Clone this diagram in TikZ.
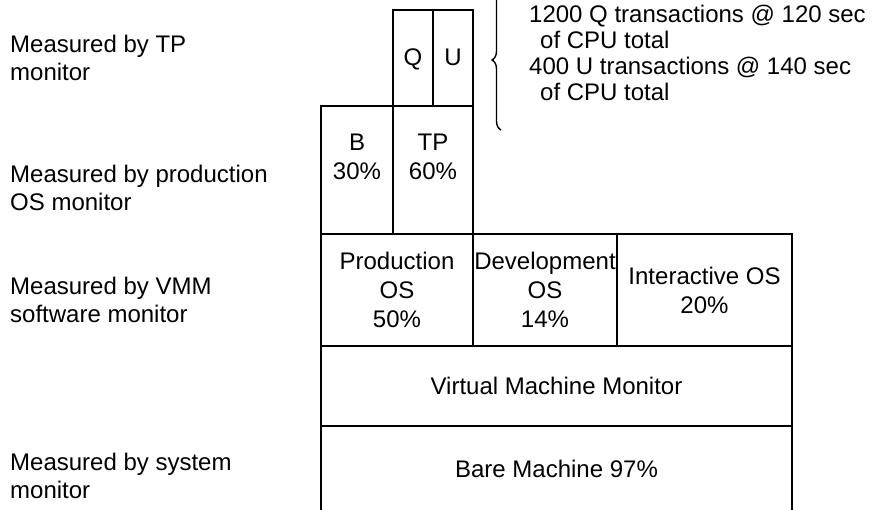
\documentclass[tikz,border=0pt]{standalone}
\usepackage{fontspec}
\setmainfont{Liberation Sans}
\usepackage{tikz}
\usetikzlibrary{calc,positioning,decorations.pathreplacing}

\begin{document}
\begin{tikzpicture}[x=1pt,y=-1pt,
    font=\fontsize{24}{27.5}\selectfont,
    layer/.style={rectangle,draw=black,line width=2pt,inner sep=0pt,align=center,font=\fontsize{24}{29}\selectfont},
    lbl/.style={anchor=base west,align=left,inner sep=0pt}]

  \useasboundingbox (0,0) rectangle (875,509);

  %% what measures what, on the left (base = last line)
  \foreach \y/\txt [count=\i] in {80/{Measured by TP\\monitor},210/{Measured by production\\OS monitor},%
                                  322/{Measured by VMM\\software monitor},498/{Measured by system\\monitor}}
           {
             \node (measure_\i) [lbl] at (10,\y) {\txt};
           }

  %% machine and vmm
  \node (bare) [layer,minimum width=471,minimum height=86] at (556.5,469) {Bare Machine 97\%};
  \node (vmm) [layer,minimum width=471,minimum height=80] at (556.5,386) {Virtual Machine Monitor};

  %% operating systems on the vmm
  \node (prod_os) [layer,minimum width=152,minimum height=112] at (397,290) {Production\\OS\\50\%};
  \node (dev_os) [layer,minimum width=144,minimum height=112] at (545,290) {Development\\OS\\14\%};
  \node (int_os) [layer,minimum width=175,minimum height=112] at (704.5,290) {Interactive OS\\20\%};

  %% jobs in the production os
  \node (batch) [layer,minimum width=72,minimum height=128] at (357,170) {};
  \node (tp) [layer,minimum width=80,minimum height=128] at (433,170) {};
  \node (batch_txt) [align=center,inner sep=0pt,font=\fontsize{24}{29}\selectfont] at($(batch.center)+(0,-13)$) {B\\30\%};
  \node (tp_txt) [align=center,inner sep=0pt,font=\fontsize{24}{29}\selectfont] at($(tp.center)+(0,-13)$) {TP\\60\%};

  %% transactions in tp
  \foreach \t [count=\i] in {Q,U}
           {
             \node (trans_\t) [layer,minimum width=40,minimum height=96,text height=17pt,text depth=3pt] at (373+40*\i,58) {\t};
           }

  %% brace and cpu totals
  \coordinate (brace_top) at (501,-10);
  \coordinate (brace_bot) at (501,130);
  \draw[line width=1.4pt,decorate,decoration={brace,amplitude=9pt}] (brace_bot) -- (brace_top);
  \node (cpu) [lbl,font=\fontsize{24}{25.7}\selectfont] at (529,100)
        {1200 Q transactions @ 120 sec\\\hspace*{11pt}of CPU total\\400 U transactions @ 140 sec\\\hspace*{11pt}of CPU total};

\end{tikzpicture}
\end{document}
